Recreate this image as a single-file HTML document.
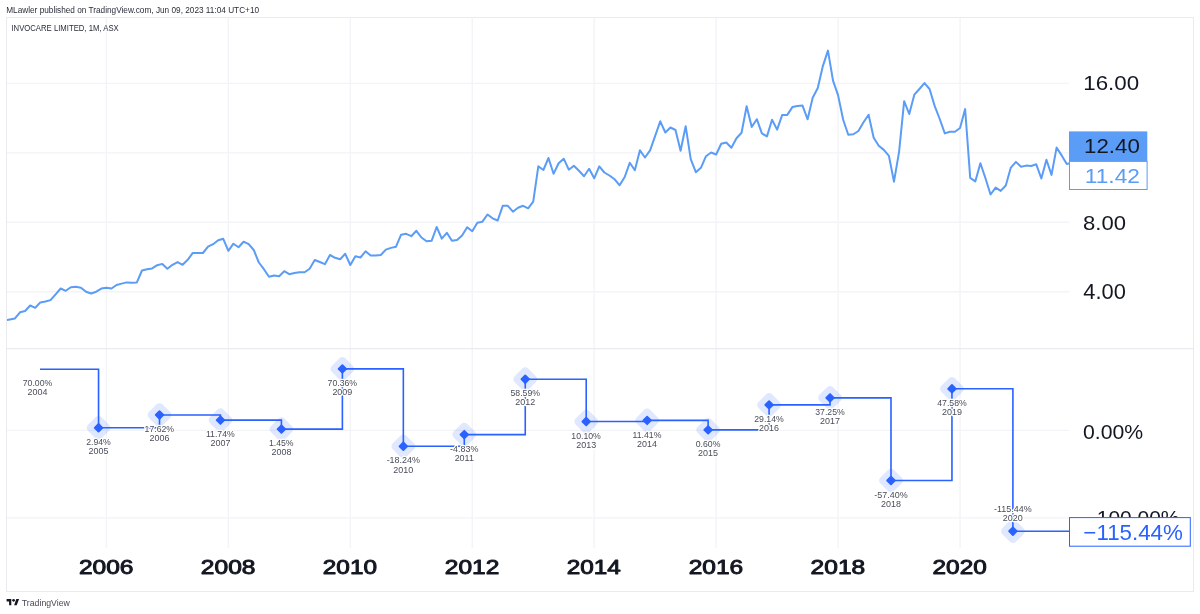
<!DOCTYPE html><html><head><meta charset="utf-8"><style>html,body{margin:0;padding:0;background:#fff;width:1200px;height:614px;overflow:hidden}svg{display:block;will-change:transform}text{font-family:"Liberation Sans",sans-serif}</style></head><body>
<svg width="1200" height="614" viewBox="0 0 1200 614">
<defs><clipPath id="cm"><rect x="7" y="18" width="1062" height="330"/></clipPath><clipPath id="ci"><rect x="7" y="349" width="1062" height="199"/></clipPath></defs>
<rect x="0" y="0" width="1200" height="614" fill="#fff"/>
<path d="M106.40 18V548 M228.35 18V548 M350.30 18V548 M472.25 18V548 M594.20 18V548 M716.15 18V548 M838.10 18V548 M960.05 18V548 M7 83.40H1069 M7 152.85H1069 M7 222.30H1069 M7 291.75H1069 M7 430.40H1069 M7 517.90H1069" stroke="#F3F4F7" stroke-width="1.4" fill="none"/>
<rect x="6.5" y="17.5" width="1187" height="574" fill="none" stroke="#E9EBF0" stroke-width="1"/>
<path d="M7 348.7H1193" stroke="#E9EBF0" stroke-width="1.2"/>
<path clip-path="url(#cm)" d="M4.78 320.40 L9.86 319.40 L14.94 318.40 L20.02 312.30 L25.10 311.00 L30.18 305.50 L35.26 307.80 L40.34 302.40 L45.43 301.50 L50.51 300.10 L55.59 294.30 L60.67 288.50 L65.75 290.80 L70.83 287.20 L75.91 286.70 L80.99 287.70 L86.08 291.70 L91.16 293.50 L96.24 291.70 L101.32 288.60 L106.40 287.70 L111.48 288.50 L116.56 285.00 L121.64 283.60 L126.73 282.40 L131.81 282.70 L136.89 282.40 L141.97 270.50 L147.05 269.30 L152.13 268.40 L157.21 265.20 L162.29 263.90 L167.38 268.70 L172.46 264.80 L177.54 262.10 L182.62 264.80 L187.70 259.80 L192.78 252.90 L197.86 252.95 L202.94 253.00 L208.03 246.70 L213.11 244.20 L218.19 240.30 L223.27 238.80 L228.35 250.80 L233.43 243.70 L238.51 247.20 L243.59 241.70 L248.68 244.20 L253.76 250.00 L258.84 262.50 L263.92 269.20 L269.00 276.70 L274.08 275.50 L279.16 276.20 L284.24 271.20 L289.32 274.20 L294.41 273.00 L299.49 272.20 L304.57 272.20 L309.65 268.70 L314.73 260.00 L319.81 262.00 L324.89 264.20 L329.98 255.00 L335.06 257.80 L340.14 259.20 L345.22 253.80 L350.30 265.00 L355.38 256.20 L360.46 257.50 L365.54 251.30 L370.62 255.50 L375.71 255.50 L380.79 255.00 L385.87 249.60 L390.95 247.90 L396.03 246.70 L401.11 234.70 L406.19 233.80 L411.27 236.20 L416.36 230.80 L421.44 237.50 L426.52 241.30 L431.60 240.80 L436.68 227.00 L441.76 238.70 L446.84 232.80 L451.92 240.80 L457.01 240.00 L462.09 235.50 L467.17 227.20 L472.25 231.20 L477.33 222.80 L482.41 221.70 L487.49 214.50 L492.58 218.30 L497.66 220.50 L502.74 205.80 L507.82 205.80 L512.90 211.70 L517.98 207.80 L523.06 205.80 L528.14 208.30 L533.23 201.70 L538.31 166.30 L543.39 170.00 L548.47 158.00 L553.55 173.80 L558.63 163.30 L563.71 158.70 L568.79 169.70 L573.88 165.80 L578.96 170.80 L584.04 176.20 L589.12 168.80 L594.20 178.30 L599.28 166.30 L604.36 172.50 L609.44 175.50 L614.52 179.20 L619.61 185.30 L624.69 177.00 L629.77 162.80 L634.85 170.30 L639.93 150.30 L645.01 157.50 L650.09 150.30 L655.17 135.80 L660.26 121.30 L665.34 132.50 L670.42 127.50 L675.50 130.00 L680.58 150.80 L685.66 126.20 L690.74 159.20 L695.82 172.20 L700.91 167.80 L705.99 156.20 L711.07 152.50 L716.15 154.50 L721.23 143.80 L726.31 142.50 L731.39 147.80 L736.47 138.30 L741.56 132.80 L746.64 106.30 L751.72 127.00 L756.80 119.20 L761.88 133.45 L766.96 136.35 L772.04 119.80 L777.12 129.60 L782.21 114.90 L787.29 114.90 L792.37 107.10 L797.45 106.00 L802.53 105.60 L807.61 119.30 L812.69 97.80 L817.77 88.00 L822.86 66.10 L827.94 50.60 L833.02 80.70 L838.10 95.40 L843.18 119.80 L848.26 134.80 L853.34 134.25 L858.42 131.00 L863.51 122.20 L868.59 114.70 L873.67 137.70 L878.75 145.80 L883.83 149.90 L888.91 155.90 L893.99 181.70 L899.07 151.80 L904.16 101.20 L909.24 114.00 L914.32 94.70 L919.40 89.00 L924.48 83.10 L929.56 89.00 L934.64 105.90 L939.72 119.00 L944.81 133.40 L949.89 131.70 L954.97 131.70 L960.05 128.00 L965.13 109.10 L970.21 177.90 L975.29 181.40 L980.38 163.20 L985.46 178.20 L990.54 194.50 L995.62 187.60 L1000.70 190.90 L1005.78 185.50 L1010.86 167.60 L1015.94 161.90 L1021.02 166.80 L1026.11 165.60 L1031.19 166.00 L1036.27 164.30 L1041.35 178.50 L1046.43 159.80 L1051.51 174.90 L1056.59 147.60 L1061.67 155.40 L1066.76 164.00 L1071.84 163.00" stroke="#5B9CF6" stroke-width="2" fill="none" stroke-linejoin="round"/>
<path d="M40 369.22 H98.55 V427.80 H159.51 V414.98 H220.46 V420.11 H281.42 V429.10 H342.38 V368.90 H403.34 V446.30 H464.29 V434.59 H525.25 V379.19 H586.21 V421.55 H647.16 V420.40 H708.12 V429.85 H769.08 V404.91 H830.03 V397.83 H890.99 V480.51 H951.95 V388.80 H1012.90 V531.22 H1069" stroke="#2962FF" stroke-width="1.6" fill="none"/>
<rect x="88.95" y="418.20" width="19.2" height="19.2" rx="4.2" transform="rotate(45 98.55 427.80)" fill="#2962FF" fill-opacity="0.15"/>
<rect x="94.95" y="424.20" width="7.2" height="7.2" rx="0.9" transform="rotate(45 98.55 427.80)" fill="#2962FF"/>
<rect x="149.91" y="405.38" width="19.2" height="19.2" rx="4.2" transform="rotate(45 159.51 414.98)" fill="#2962FF" fill-opacity="0.15"/>
<rect x="155.91" y="411.38" width="7.2" height="7.2" rx="0.9" transform="rotate(45 159.51 414.98)" fill="#2962FF"/>
<rect x="210.86" y="410.51" width="19.2" height="19.2" rx="4.2" transform="rotate(45 220.46 420.11)" fill="#2962FF" fill-opacity="0.15"/>
<rect x="216.86" y="416.51" width="7.2" height="7.2" rx="0.9" transform="rotate(45 220.46 420.11)" fill="#2962FF"/>
<rect x="271.82" y="419.50" width="19.2" height="19.2" rx="4.2" transform="rotate(45 281.42 429.10)" fill="#2962FF" fill-opacity="0.15"/>
<rect x="277.82" y="425.50" width="7.2" height="7.2" rx="0.9" transform="rotate(45 281.42 429.10)" fill="#2962FF"/>
<rect x="332.78" y="359.30" width="19.2" height="19.2" rx="4.2" transform="rotate(45 342.38 368.90)" fill="#2962FF" fill-opacity="0.15"/>
<rect x="338.78" y="365.30" width="7.2" height="7.2" rx="0.9" transform="rotate(45 342.38 368.90)" fill="#2962FF"/>
<rect x="393.74" y="436.70" width="19.2" height="19.2" rx="4.2" transform="rotate(45 403.34 446.30)" fill="#2962FF" fill-opacity="0.15"/>
<rect x="399.74" y="442.70" width="7.2" height="7.2" rx="0.9" transform="rotate(45 403.34 446.30)" fill="#2962FF"/>
<rect x="454.69" y="424.99" width="19.2" height="19.2" rx="4.2" transform="rotate(45 464.29 434.59)" fill="#2962FF" fill-opacity="0.15"/>
<rect x="460.69" y="430.99" width="7.2" height="7.2" rx="0.9" transform="rotate(45 464.29 434.59)" fill="#2962FF"/>
<rect x="515.65" y="369.59" width="19.2" height="19.2" rx="4.2" transform="rotate(45 525.25 379.19)" fill="#2962FF" fill-opacity="0.15"/>
<rect x="521.65" y="375.59" width="7.2" height="7.2" rx="0.9" transform="rotate(45 525.25 379.19)" fill="#2962FF"/>
<rect x="576.61" y="411.95" width="19.2" height="19.2" rx="4.2" transform="rotate(45 586.21 421.55)" fill="#2962FF" fill-opacity="0.15"/>
<rect x="582.61" y="417.95" width="7.2" height="7.2" rx="0.9" transform="rotate(45 586.21 421.55)" fill="#2962FF"/>
<rect x="637.56" y="410.80" width="19.2" height="19.2" rx="4.2" transform="rotate(45 647.16 420.40)" fill="#2962FF" fill-opacity="0.15"/>
<rect x="643.56" y="416.80" width="7.2" height="7.2" rx="0.9" transform="rotate(45 647.16 420.40)" fill="#2962FF"/>
<rect x="698.52" y="420.25" width="19.2" height="19.2" rx="4.2" transform="rotate(45 708.12 429.85)" fill="#2962FF" fill-opacity="0.15"/>
<rect x="704.52" y="426.25" width="7.2" height="7.2" rx="0.9" transform="rotate(45 708.12 429.85)" fill="#2962FF"/>
<rect x="759.48" y="395.31" width="19.2" height="19.2" rx="4.2" transform="rotate(45 769.08 404.91)" fill="#2962FF" fill-opacity="0.15"/>
<rect x="765.48" y="401.31" width="7.2" height="7.2" rx="0.9" transform="rotate(45 769.08 404.91)" fill="#2962FF"/>
<rect x="820.43" y="388.23" width="19.2" height="19.2" rx="4.2" transform="rotate(45 830.03 397.83)" fill="#2962FF" fill-opacity="0.15"/>
<rect x="826.43" y="394.23" width="7.2" height="7.2" rx="0.9" transform="rotate(45 830.03 397.83)" fill="#2962FF"/>
<rect x="881.39" y="470.91" width="19.2" height="19.2" rx="4.2" transform="rotate(45 890.99 480.51)" fill="#2962FF" fill-opacity="0.15"/>
<rect x="887.39" y="476.91" width="7.2" height="7.2" rx="0.9" transform="rotate(45 890.99 480.51)" fill="#2962FF"/>
<rect x="942.35" y="379.20" width="19.2" height="19.2" rx="4.2" transform="rotate(45 951.95 388.80)" fill="#2962FF" fill-opacity="0.15"/>
<rect x="948.35" y="385.20" width="7.2" height="7.2" rx="0.9" transform="rotate(45 951.95 388.80)" fill="#2962FF"/>
<rect x="1003.30" y="521.62" width="19.2" height="19.2" rx="4.2" transform="rotate(45 1012.90 531.22)" fill="#2962FF" fill-opacity="0.15"/>
<rect x="1009.30" y="527.62" width="7.2" height="7.2" rx="0.9" transform="rotate(45 1012.90 531.22)" fill="#2962FF"/>
<rect x="1069" y="131.4" width="78.3" height="30" fill="#5B9CF6"/>
<rect x="1069.5" y="161.4" width="77.6" height="28.1" fill="#fff" stroke="#5B9CF6" stroke-width="1"/>
<text transform="translate(6.20,13.00) scale(0.9874,1)" font-size="8.37" fill="#2A2E39">MLawler published on TradingView.com, Jun 09, 2023 11:04 UTC+10</text>
<text transform="translate(11.40,30.80) scale(0.8633,1)" font-size="8.96" fill="#2A2E39">INVOCARE LIMITED, 1M, ASX</text>
<text transform="translate(1083.20,90.30) scale(1.0994,1)" font-size="20.34" fill="#131722">16.00</text>
<text transform="translate(1083.01,229.60) scale(1.0772,1)" font-size="20.48" fill="#131722">8.00</text>
<text transform="translate(1083.36,299.10) scale(1.0326,1)" font-size="21.19" fill="#131722">4.00</text>
<text transform="translate(1083.04,438.60) scale(1.0155,1)" font-size="20.91" fill="#131722">0.00%</text>
<text transform="translate(1096.79,524.60) scale(1.0024,1)" font-size="20.91" fill="#131722">100.00%</text>
<text transform="translate(78.92,573.52) scale(1.2282,1)" font-size="19.98" fill="#131722" stroke="#131722" stroke-width="0.95" stroke-linejoin="round">2006</text>
<text transform="translate(200.87,573.52) scale(1.2282,1)" font-size="19.98" fill="#131722" stroke="#131722" stroke-width="0.95" stroke-linejoin="round">2008</text>
<text transform="translate(322.83,573.52) scale(1.2192,1)" font-size="19.98" fill="#131722" stroke="#131722" stroke-width="0.95" stroke-linejoin="round">2010</text>
<text transform="translate(444.77,573.52) scale(1.2282,1)" font-size="19.98" fill="#131722" stroke="#131722" stroke-width="0.95" stroke-linejoin="round">2012</text>
<text transform="translate(566.73,573.52) scale(1.2192,1)" font-size="19.98" fill="#131722" stroke="#131722" stroke-width="0.95" stroke-linejoin="round">2014</text>
<text transform="translate(688.67,573.52) scale(1.2282,1)" font-size="19.98" fill="#131722" stroke="#131722" stroke-width="0.95" stroke-linejoin="round">2016</text>
<text transform="translate(810.62,573.52) scale(1.2282,1)" font-size="19.98" fill="#131722" stroke="#131722" stroke-width="0.95" stroke-linejoin="round">2018</text>
<text transform="translate(932.58,573.52) scale(1.2192,1)" font-size="19.98" fill="#131722" stroke="#131722" stroke-width="0.95" stroke-linejoin="round">2020</text>
<text transform="translate(21.86,605.90) scale(1.0683,1)" font-size="8.17" fill="#464A55">TradingView</text>
<text transform="translate(22.77,386.37) scale(1.0000,1)" font-size="8.70" fill="#4A4E59" stroke="#fff" stroke-width="2.4" stroke-linejoin="round" paint-order="stroke">70.00%</text>
<text transform="translate(27.53,395.42) scale(1.0300,1)" font-size="8.70" fill="#4A4E59" stroke="#fff" stroke-width="2.4" stroke-linejoin="round" paint-order="stroke">2004</text>
<text transform="translate(86.14,444.95) scale(1.0000,1)" font-size="8.70" fill="#4A4E59" stroke="#fff" stroke-width="2.4" stroke-linejoin="round" paint-order="stroke">2.94%</text>
<text transform="translate(88.55,454.00) scale(1.0300,1)" font-size="8.70" fill="#4A4E59" stroke="#fff" stroke-width="2.4" stroke-linejoin="round" paint-order="stroke">2005</text>
<text transform="translate(144.61,432.13) scale(1.0000,1)" font-size="8.70" fill="#4A4E59" stroke="#fff" stroke-width="2.4" stroke-linejoin="round" paint-order="stroke">17.62%</text>
<text transform="translate(149.51,441.18) scale(1.0300,1)" font-size="8.70" fill="#4A4E59" stroke="#fff" stroke-width="2.4" stroke-linejoin="round" paint-order="stroke">2006</text>
<text transform="translate(205.89,437.26) scale(1.0000,1)" font-size="8.70" fill="#4A4E59" stroke="#fff" stroke-width="2.4" stroke-linejoin="round" paint-order="stroke">11.74%</text>
<text transform="translate(210.47,446.31) scale(1.0300,1)" font-size="8.70" fill="#4A4E59" stroke="#fff" stroke-width="2.4" stroke-linejoin="round" paint-order="stroke">2007</text>
<text transform="translate(268.94,446.25) scale(1.0000,1)" font-size="8.70" fill="#4A4E59" stroke="#fff" stroke-width="2.4" stroke-linejoin="round" paint-order="stroke">1.45%</text>
<text transform="translate(271.43,455.30) scale(1.0300,1)" font-size="8.70" fill="#4A4E59" stroke="#fff" stroke-width="2.4" stroke-linejoin="round" paint-order="stroke">2008</text>
<text transform="translate(327.55,386.05) scale(1.0000,1)" font-size="8.70" fill="#4A4E59" stroke="#fff" stroke-width="2.4" stroke-linejoin="round" paint-order="stroke">70.36%</text>
<text transform="translate(332.38,395.10) scale(1.0300,1)" font-size="8.70" fill="#4A4E59" stroke="#fff" stroke-width="2.4" stroke-linejoin="round" paint-order="stroke">2009</text>
<text transform="translate(386.64,463.45) scale(1.0300,1)" font-size="8.70" fill="#4A4E59" stroke="#fff" stroke-width="2.4" stroke-linejoin="round" paint-order="stroke">-18.24%</text>
<text transform="translate(393.27,472.50) scale(1.0300,1)" font-size="8.70" fill="#4A4E59" stroke="#fff" stroke-width="2.4" stroke-linejoin="round" paint-order="stroke">2010</text>
<text transform="translate(450.09,451.74) scale(1.0300,1)" font-size="8.70" fill="#4A4E59" stroke="#fff" stroke-width="2.4" stroke-linejoin="round" paint-order="stroke">-4.83%</text>
<text transform="translate(454.63,460.79) scale(1.0300,1)" font-size="8.70" fill="#4A4E59" stroke="#fff" stroke-width="2.4" stroke-linejoin="round" paint-order="stroke">2011</text>
<text transform="translate(510.49,396.34) scale(1.0000,1)" font-size="8.70" fill="#4A4E59" stroke="#fff" stroke-width="2.4" stroke-linejoin="round" paint-order="stroke">58.59%</text>
<text transform="translate(515.25,405.39) scale(1.0300,1)" font-size="8.70" fill="#4A4E59" stroke="#fff" stroke-width="2.4" stroke-linejoin="round" paint-order="stroke">2012</text>
<text transform="translate(571.31,438.70) scale(1.0000,1)" font-size="8.70" fill="#4A4E59" stroke="#fff" stroke-width="2.4" stroke-linejoin="round" paint-order="stroke">10.10%</text>
<text transform="translate(576.21,447.75) scale(1.0300,1)" font-size="8.70" fill="#4A4E59" stroke="#fff" stroke-width="2.4" stroke-linejoin="round" paint-order="stroke">2013</text>
<text transform="translate(632.59,437.55) scale(1.0000,1)" font-size="8.70" fill="#4A4E59" stroke="#fff" stroke-width="2.4" stroke-linejoin="round" paint-order="stroke">11.41%</text>
<text transform="translate(637.10,446.60) scale(1.0300,1)" font-size="8.70" fill="#4A4E59" stroke="#fff" stroke-width="2.4" stroke-linejoin="round" paint-order="stroke">2014</text>
<text transform="translate(695.78,447.00) scale(1.0000,1)" font-size="8.70" fill="#4A4E59" stroke="#fff" stroke-width="2.4" stroke-linejoin="round" paint-order="stroke">0.60%</text>
<text transform="translate(698.12,456.05) scale(1.0300,1)" font-size="8.70" fill="#4A4E59" stroke="#fff" stroke-width="2.4" stroke-linejoin="round" paint-order="stroke">2015</text>
<text transform="translate(754.25,422.06) scale(1.0000,1)" font-size="8.70" fill="#4A4E59" stroke="#fff" stroke-width="2.4" stroke-linejoin="round" paint-order="stroke">29.14%</text>
<text transform="translate(759.08,431.11) scale(1.0300,1)" font-size="8.70" fill="#4A4E59" stroke="#fff" stroke-width="2.4" stroke-linejoin="round" paint-order="stroke">2016</text>
<text transform="translate(815.27,414.98) scale(1.0000,1)" font-size="8.70" fill="#4A4E59" stroke="#fff" stroke-width="2.4" stroke-linejoin="round" paint-order="stroke">37.25%</text>
<text transform="translate(820.04,424.03) scale(1.0300,1)" font-size="8.70" fill="#4A4E59" stroke="#fff" stroke-width="2.4" stroke-linejoin="round" paint-order="stroke">2017</text>
<text transform="translate(874.30,497.66) scale(1.0300,1)" font-size="8.70" fill="#4A4E59" stroke="#fff" stroke-width="2.4" stroke-linejoin="round" paint-order="stroke">-57.40%</text>
<text transform="translate(881.00,506.71) scale(1.0300,1)" font-size="8.70" fill="#4A4E59" stroke="#fff" stroke-width="2.4" stroke-linejoin="round" paint-order="stroke">2018</text>
<text transform="translate(937.26,405.95) scale(1.0000,1)" font-size="8.70" fill="#4A4E59" stroke="#fff" stroke-width="2.4" stroke-linejoin="round" paint-order="stroke">47.58%</text>
<text transform="translate(941.95,415.00) scale(1.0300,1)" font-size="8.70" fill="#4A4E59" stroke="#fff" stroke-width="2.4" stroke-linejoin="round" paint-order="stroke">2019</text>
<text transform="translate(994.05,511.62) scale(1.0300,1)" font-size="8.70" fill="#4A4E59" stroke="#fff" stroke-width="2.4" stroke-linejoin="round" paint-order="stroke">-115.44%</text>
<text transform="translate(1002.84,520.62) scale(1.0300,1)" font-size="8.70" fill="#4A4E59" stroke="#fff" stroke-width="2.4" stroke-linejoin="round" paint-order="stroke">2020</text>
<rect x="1069.5" y="517.6" width="120.8" height="28.6" fill="#fff" stroke="#2962FF" stroke-width="1"/>
<text transform="translate(1084.11,153.40) scale(1.1433,1)" font-size="19.48" fill="#131722">12.40</text>
<text transform="translate(1084.78,183.00) scale(1.1324,1)" font-size="20.05" fill="#5B9CF6">11.42</text>
<text transform="translate(1083.35,539.60) scale(1.0193,1)" font-size="21.90" fill="#2962FF">−115.44%</text>
<g fill="#131722"><path d="M6.6 598.9H11.3V605.2H9.1V601.6H6.6Z"/><circle cx="13.6" cy="600.3" r="1.35"/><path d="M16.3 598.9H19.1L16.7 605.2H14.1Z"/></g>
</svg></body></html>
